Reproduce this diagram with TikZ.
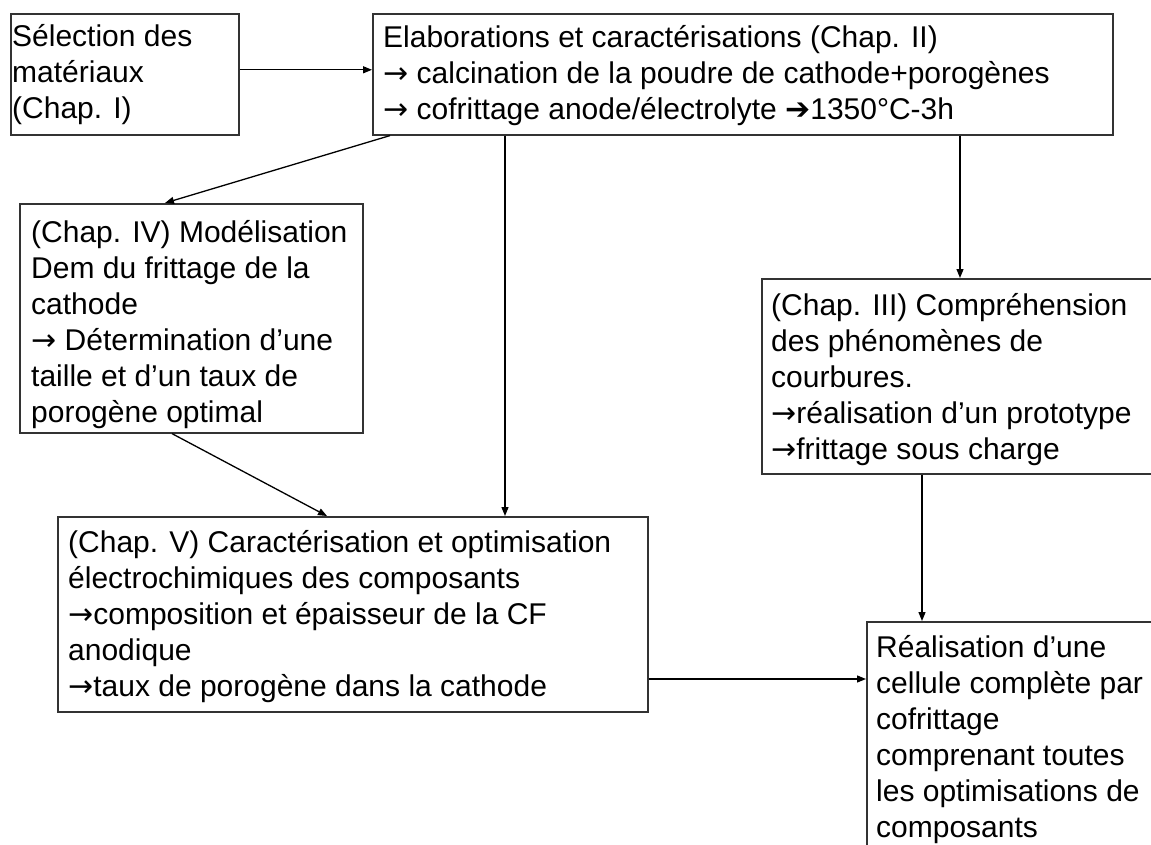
\documentclass[tikz,border=0pt]{standalone}
\usepackage{fontspec}
\setmainfont{Liberation Sans}
\newfontfamily\dejavu{DejaVu Sans}
\newcommand\myrarr{{\dejavu →}}
\usetikzlibrary{arrows.meta}
\tikzset{
  box/.style={draw=black!80, line width=1.6pt, inner sep=0pt, anchor=north west},
  txt/.style={align=left, inner sep=0pt, anchor=north west, text=black,
              font=\fontsize{30}{36}\selectfont},
  conn/.style={line width=1.3pt, -{Triangle[length=9pt,width=7pt]}}
}
\begin{document}
\begin{tikzpicture}[x=1pt,y=-1pt]
\useasboundingbox (0,0) rectangle (1151,845);
\clip (0,0) rectangle (1151,845);
\fill[white] (0,0) rectangle (1151,845);
% boxes
\node[box, minimum width=228pt, minimum height=121pt] (A) at (10,13) {};
\node[box, minimum width=740pt, minimum height=121pt] (B) at (372,13) {};
\node[box, minimum width=343pt, minimum height=229pt] (D) at (19,203) {};
\node[box, minimum width=394pt, minimum height=195pt] (C) at (761,278) {};
\node[box, minimum width=590pt, minimum height=195pt] (E) at (57,516) {};
\node[box, minimum width=290pt, minimum height=232pt] (F) at (866,621) {};
% texts
\node[txt] (tA) at ([xshift=2pt]A.north west) {\rule{0pt}{33pt}Sélection des\\matériaux\\(Chap. I)};
\node[txt] (tB) at ([xshift=11pt]B.north west) {\rule{0pt}{34pt}Elaborations et caractérisations (Chap. II)\\\myrarr{} calcination de la poudre de cathode+porogènes\\\myrarr{} cofrittage anode/électrolyte {\dejavu ➔}1350°C-3h};
\node[txt] (tD) at ([xshift=12pt]D.north west) {\rule{0pt}{39pt}(Chap. IV) Modélisation\\Dem du frittage de la\\cathode\\\myrarr{} Détermination d’une\\taille et d’un taux de\\porogène optimal};
\node[txt] (tC) at ([xshift=10pt]C.north west) {\rule{0pt}{37pt}(Chap. III) Compréhension\\des phénomènes de\\courbures.\\\myrarr réalisation d’un prototype\\\myrarr frittage sous charge};
\node[txt] (tE) at ([xshift=11pt]E.north west) {\rule{0pt}{36pt}(Chap. V) Caractérisation et optimisation\\électrochimiques des composants\\\myrarr composition et épaisseur de la CF\\anodique\\\myrarr taux de porogène dans la cathode};
\node[txt] (tF) at ([xshift=10pt]F.north west) {\rule{0pt}{36pt}Réalisation d’une\\cellule complète par\\cofrittage\\comprenant toutes\\les optimisations de\\composants};
% connectors
\draw[conn] ([yshift=4.5pt]A.east) -- ([yshift=4.5pt]A.east -| B.west);
\draw[conn] ([xshift=18pt]B.south west) -- ([xshift=146pt]D.north west);
\draw[conn] ([xshift=133pt]B.south west) -- ([xshift=133pt]B.south west |- E.north);
\draw[conn] ([xshift=588pt]B.south west) -- ([xshift=588pt]B.south west |- C.north);
\draw[conn] ([xshift=153pt]D.south west) -- ([xshift=270pt]E.north west);
\draw[conn] ([xshift=161pt]C.south west) -- ([xshift=161pt]C.south west |- F.north);
\draw[conn] ([yshift=-163pt]E.north east) -- ([yshift=-163pt]E.north east -| F.west);
\end{tikzpicture}
\end{document}
